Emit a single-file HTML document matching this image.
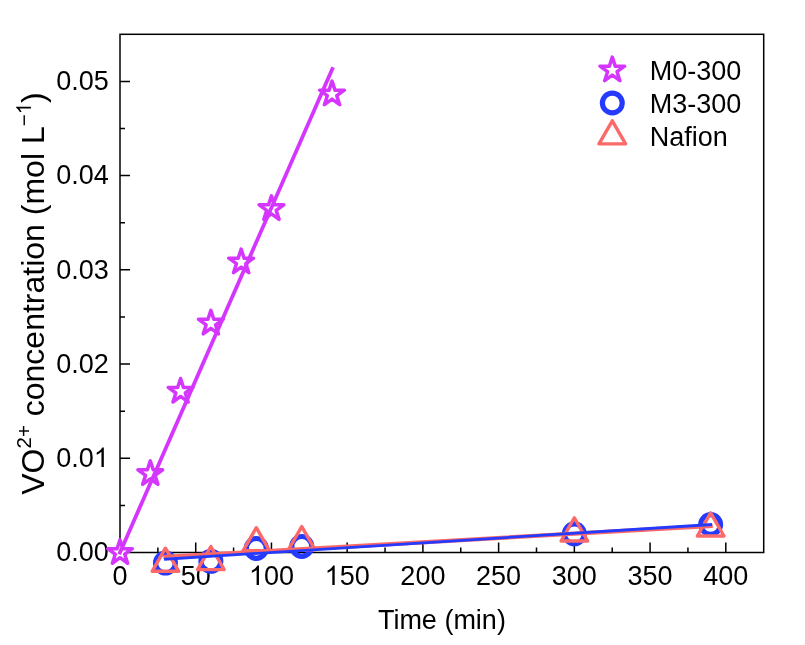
<!DOCTYPE html>
<html><head><meta charset="utf-8"><style>
html,body{margin:0;padding:0;background:#fff;width:805px;height:645px;overflow:hidden}
svg{display:block} text{filter:grayscale(1)}
</style></head><body>
<svg width="805" height="645" viewBox="0 0 805 645">
<rect width="805" height="645" fill="#fff"/>
<rect x="120.0" y="34.3" width="643.70" height="518.20" fill="none" stroke="#000" stroke-width="1.5"/>
<path d="M157.86,552.5 V547.5 M195.72,552.5 V542.5 M233.59,552.5 V547.5 M271.45,552.5 V542.5 M309.31,552.5 V547.5 M347.17,552.5 V542.5 M385.04,552.5 V547.5 M422.90,552.5 V542.5 M460.76,552.5 V547.5 M498.62,552.5 V542.5 M536.49,552.5 V547.5 M574.35,552.5 V542.5 M612.21,552.5 V547.5 M650.07,552.5 V542.5 M687.94,552.5 V547.5 M725.80,552.5 V542.5 M120.0,505.39 H125.0 M120.0,458.28 H130.0 M120.0,411.17 H125.0 M120.0,364.06 H130.0 M120.0,316.95 H125.0 M120.0,269.84 H130.0 M120.0,222.73 H125.0 M120.0,175.62 H130.0 M120.0,128.51 H125.0 M120.0,81.40 H130.0" stroke="#000" stroke-width="1.5" fill="none"/>
<g font-family='"Liberation Sans", sans-serif' font-size="27" fill="#000">
<text id="xl0" x="120.00" y="585.0" text-anchor="middle">0</text>
<text id="xl50" x="195.72" y="585.0" text-anchor="middle">50</text>
<text id="xl100" x="271.45" y="585.0" text-anchor="middle"> 00</text>
<text id="xl150" x="347.17" y="585.0" text-anchor="middle"> 50</text>
<text id="xl200" x="422.90" y="585.0" text-anchor="middle">200</text>
<text id="xl250" x="498.62" y="585.0" text-anchor="middle">250</text>
<text id="xl300" x="574.35" y="585.0" text-anchor="middle">300</text>
<text id="xl350" x="650.07" y="585.0" text-anchor="middle">350</text>
<text id="xl400" x="725.80" y="585.0" text-anchor="middle">400</text>
<text id="yl0" x="108.8" y="561.20" text-anchor="end">0.00</text>
<text id="yl1" x="108.8" y="466.98" text-anchor="end">0.0 </text>
<text id="yl2" x="108.8" y="372.76" text-anchor="end">0.02</text>
<text id="yl3" x="108.8" y="278.54" text-anchor="end">0.03</text>
<text id="yl4" x="108.8" y="184.32" text-anchor="end">0.04</text>
<text id="yl5" x="108.8" y="90.10" text-anchor="end">0.05</text>
</g>
<text x="441.9" y="628.8" text-anchor="middle" font-family='"Liberation Sans", sans-serif' font-size="27">Time (min)</text>
<text id="ytitle" transform="translate(44.4,293.5) rotate(-90)" text-anchor="middle" font-family='"Liberation Sans", sans-serif' font-size="32">VO<tspan font-size="20.5" dy="-13.5">2+</tspan><tspan dy="13.5"> concentration (mol L</tspan><tspan font-size="20.5" dy="-13.5">− </tspan><tspan dy="13.5">)</tspan></text>
<circle cx="165.44" cy="563.10" r="9.9" fill="none" stroke="#243AFE" stroke-width="5.2"/>
<circle cx="210.87" cy="561.30" r="9.9" fill="none" stroke="#243AFE" stroke-width="5.2"/>
<circle cx="256.31" cy="548.40" r="9.9" fill="none" stroke="#243AFE" stroke-width="5.2"/>
<circle cx="301.74" cy="546.40" r="9.9" fill="none" stroke="#243AFE" stroke-width="5.2"/>
<circle cx="574.35" cy="533.80" r="9.9" fill="none" stroke="#243AFE" stroke-width="5.2"/>
<circle cx="710.65" cy="524.50" r="9.9" fill="none" stroke="#243AFE" stroke-width="5.2"/>
<path d="M165.44,548.20 L178.74,571.30 L152.13,571.30 Z" fill="none" stroke="#FC6969" stroke-width="3.4" stroke-linejoin="round"/>
<path d="M210.87,546.50 L224.17,569.60 L197.57,569.60 Z" fill="none" stroke="#FC6969" stroke-width="3.4" stroke-linejoin="round"/>
<path d="M256.31,527.70 L269.61,550.80 L243.00,550.80 Z" fill="none" stroke="#FC6969" stroke-width="3.4" stroke-linejoin="round"/>
<path d="M301.74,526.60 L315.04,549.70 L288.44,549.70 Z" fill="none" stroke="#FC6969" stroke-width="3.4" stroke-linejoin="round"/>
<path d="M574.35,517.90 L587.65,541.00 L561.05,541.00 Z" fill="none" stroke="#FC6969" stroke-width="3.4" stroke-linejoin="round"/>
<path d="M710.65,512.90 L723.95,536.00 L697.36,536.00 Z" fill="none" stroke="#FC6969" stroke-width="3.4" stroke-linejoin="round"/>
<path d="M120.00,539.70 L122.92,548.68 L132.36,548.68 L124.72,554.23 L127.64,563.22 L120.00,557.67 L112.36,563.22 L115.28,554.23 L107.64,548.68 L117.08,548.68 Z" fill="#fff" stroke="#D536FD" stroke-width="3.5" stroke-linejoin="round"/>
<path d="M150.29,460.85 L153.21,469.83 L162.65,469.83 L155.01,475.38 L157.93,484.37 L150.29,478.82 L142.65,484.37 L145.57,475.38 L137.93,469.83 L147.37,469.83 Z" fill="#fff" stroke="#D536FD" stroke-width="3.5" stroke-linejoin="round"/>
<path d="M180.58,378.45 L183.50,387.43 L192.94,387.43 L185.30,392.98 L188.22,401.97 L180.58,396.42 L172.94,401.97 L175.86,392.98 L168.22,387.43 L177.66,387.43 Z" fill="#fff" stroke="#D536FD" stroke-width="3.5" stroke-linejoin="round"/>
<path d="M210.87,310.35 L213.79,319.33 L223.23,319.33 L215.59,324.88 L218.51,333.87 L210.87,328.32 L203.23,333.87 L206.15,324.88 L198.51,319.33 L207.95,319.33 Z" fill="#fff" stroke="#D536FD" stroke-width="3.5" stroke-linejoin="round"/>
<path d="M241.16,249.15 L244.08,258.13 L253.52,258.13 L245.88,263.68 L248.80,272.67 L241.16,267.12 L233.52,272.67 L236.44,263.68 L228.80,258.13 L238.24,258.13 Z" fill="#fff" stroke="#D536FD" stroke-width="3.5" stroke-linejoin="round"/>
<path d="M271.45,195.85 L274.37,204.83 L283.81,204.83 L276.17,210.38 L279.09,219.37 L271.45,213.82 L263.81,219.37 L266.73,210.38 L259.09,204.83 L268.53,204.83 Z" fill="#fff" stroke="#D536FD" stroke-width="3.5" stroke-linejoin="round"/>
<path d="M332.03,81.15 L334.95,90.13 L344.39,90.13 L336.75,95.68 L339.67,104.67 L332.03,99.12 L324.39,104.67 L327.31,95.68 L319.67,90.13 L329.11,90.13 Z" fill="#fff" stroke="#D536FD" stroke-width="3.5" stroke-linejoin="round"/>
<line x1="120.00" y1="552.50" x2="332.3" y2="69.1" stroke="#D536FD" stroke-width="3.8" stroke-linecap="square"/>
<line x1="165.44" y1="556.9" x2="710.65" y2="525.9" stroke="#FC6969" stroke-width="4.2" stroke-linecap="square"/>
<line x1="165.44" y1="559.2" x2="710.65" y2="524.6" stroke="#243AFE" stroke-width="2.8" stroke-linecap="square"/>
<path d="M612.30,57.15 L615.22,66.13 L624.66,66.13 L617.02,71.68 L619.94,80.67 L612.30,75.12 L604.66,80.67 L607.58,71.68 L599.94,66.13 L609.38,66.13 Z" fill="#fff" stroke="#D536FD" stroke-width="3.5" stroke-linejoin="round"/>
<circle cx="612.30" cy="103.00" r="9.9" fill="none" stroke="#243AFE" stroke-width="5.2"/>
<path d="M612.30,120.80 L625.60,143.90 L599.00,143.90 Z" fill="none" stroke="#FC6969" stroke-width="3.4" stroke-linejoin="round"/>
<g font-family='"Liberation Sans", sans-serif' font-size="27" fill="#000">
<text x="649.7" y="79.7">M0-300</text>
<text x="649.7" y="112.8">M3-300</text>
<text x="649.7" y="145.5">Nafion</text>
</g>
<path d="M763 0H583V1147Q518 1085 412.5 1023Q307 961 223 930V1104Q374 1175 487.5 1276Q601 1377 648 1472H763Z" transform="translate(248.92,585.00) scale(0.01318,-0.01318)"/>
<path d="M763 0H583V1147Q518 1085 412.5 1023Q307 961 223 930V1104Q374 1175 487.5 1276Q601 1377 648 1472H763Z" transform="translate(324.64,585.00) scale(0.01318,-0.01318)"/>
<path d="M763 0H583V1147Q518 1085 412.5 1023Q307 961 223 930V1104Q374 1175 487.5 1276Q601 1377 648 1472H763Z" transform="translate(93.77,466.98) scale(0.01318,-0.01318)"/>
<g transform="translate(44.4,293.5) rotate(-90)"><path d="M763 0H583V1147Q518 1085 412.5 1023Q307 961 223 930V1104Q374 1175 487.5 1276Q601 1377 648 1472H763Z" transform="translate(179.16,-13.50) scale(0.01001,-0.01001)"/></g>
</svg>
</body></html>
